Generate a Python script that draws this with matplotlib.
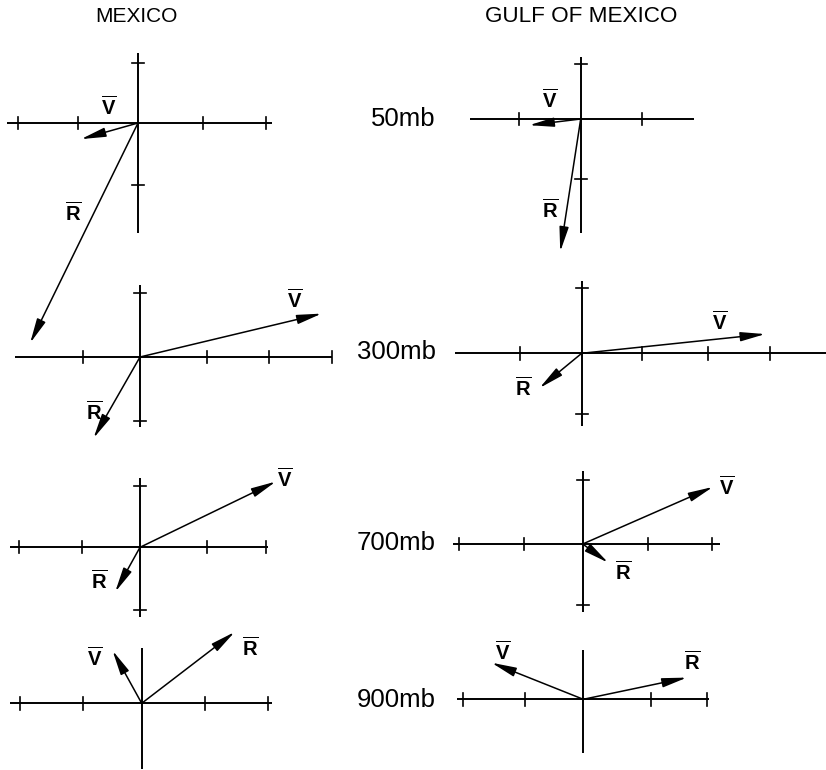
import matplotlib
matplotlib.use("Agg")
import matplotlib.pyplot as plt

plt.rcParams['font.family'] = ['Liberation Sans', 'DejaVu Sans']
plt.rcParams['mathtext.fontset'] = 'custom'
plt.rcParams['mathtext.rm'] = 'Liberation Sans'
plt.rcParams['mathtext.bf'] = 'Liberation Sans:bold'

# ---------------- data (units of the hand-drawn grid) ----------------
columns = ["MEXICO", "GULF OF MEXICO"]
levels = ["50mb", "300mb", "700mb", "900mb"]

# Mean wind vector V (x, y) per level
mex_V = [(-0.92, -0.26), (2.93, 0.70), (2.19, 1.06), (-0.47, 0.85)]
gulf_V = [(-0.83, -0.10), (2.96, 0.31), (2.10, 0.92), (-1.48, 0.59)]
# Vector R (x, y) per level
mex_R = [(-1.74, -3.55), (-0.75, -1.31), (-0.40, -0.72), (1.50, 1.15)]
gulf_R = [(-0.33, -2.14), (-0.68, -0.56), (0.41, -0.30), (1.67, 0.35)]

# tick marks along axes
mex_xticks = [[-1.94, -0.97, 1.05, 2.06], [-0.92, 1.08, 2.08, 3.10],
              [-1.95, -0.94, 1.08, 2.04], [-1.96, -0.94, 1.02, 2.04]]
mex_yticks = [[0.97, -1.0], [1.03, -1.04], [0.99, -1.01], []]
gulf_xticks = [[-1.0, 0.99], [-1.0, 0.98, 2.03, 3.04],
               [-1.99, -0.95, 1.06, 2.08], [-1.94, -0.94, 1.09, 2.0]]
gulf_yticks = [[0.89, -0.97], [1.05, -0.98], [1.03, -0.98], []]

# axis extents (x_min, x_max), (y_max, y_min)
mex_xext = [(-2.11, 2.16), (-2.02, 3.10), (-2.10, 2.07), (-2.12, 2.10)]
mex_yext = [(1.13, -1.77), (1.16, -1.13), (1.12, -1.13), (0.89, -1.06)]
gulf_xext = [(-1.79, 1.82), (-2.04, 4.10), (-2.10, 2.21), (-2.04, 2.02)]
gulf_yext = [(1.00, -1.84), (1.16, -1.18), (1.17, -1.09), (0.80, -0.87)]

# label anchor positions (units)
mex_Vlab = [(-0.48, 0.26), (2.50, 0.92), (2.34, 1.11), (-0.75, 0.73)]
mex_Rlab = [(-1.05, -1.45), (-0.74, -0.88), (-0.65, -0.55), (1.75, 0.90)]
gulf_Vlab = [(-0.50, 0.30), (2.23, 0.50), (2.32, 0.92), (-1.30, 0.77)]
gulf_Rlab = [(-0.49, -1.47), (-0.95, -0.56), (0.65, -0.45), (1.75, 0.61)]

# ---------------- layout ----------------
W, H = 826, 770
U = 62.0  # pixels per unit
mex_origin = [(138, 123), (140, 357), (140, 547.3), (141.7, 703.3)]
gulf_origin = [(580.7, 119), (581.7, 353.3), (582.7, 544), (583.3, 699.3)]

fig = plt.figure(figsize=(W / 100, H / 100), dpi=100)
fig.patch.set_facecolor('white')

XL, XR, YB, YT = -2.6, 4.4, -3.9, 1.5

V_TEX = r'$\overline{\mathbf{V}}$'
R_TEX = r'$\overline{\mathbf{R}}$'


def panel(origin, V, R, xt, yt, xe, ye, vlab, rlab):
    ox, oy = origin
    left = (ox + XL * U) / W
    bottom = 1 - (oy - YB * U) / H
    ax = fig.add_axes([left, bottom, (XR - XL) * U / W, (YT - YB) * U / H])
    ax.set_xlim(XL, XR)
    ax.set_ylim(YB, YT)
    ax.axis('off')
    ax.patch.set_alpha(0)
    lw_ax = 1.4
    ax.plot([xe[0], xe[1]], [0, 0], color='black', lw=lw_ax, clip_on=False,
            solid_capstyle='butt')
    ax.plot([0, 0], [ye[0], ye[1]], color='black', lw=lw_ax, clip_on=False,
            solid_capstyle='butt')
    for t in xt:
        ax.plot([t, t], [-0.1, 0.1], color='black', lw=1.2, clip_on=False)
    for t in yt:
        ax.plot([-0.1, 0.1], [t, t], color='black', lw=1.2, clip_on=False)
    for vec in (V, R):
        ax.annotate('', xy=vec, xytext=(0, 0),
                    arrowprops=dict(arrowstyle='-|>,head_length=1.5,head_width=0.28',
                                    lw=1.1, color='black', shrinkA=0, shrinkB=0,
                                    mutation_scale=10),
                    annotation_clip=False)
    ax.text(vlab[0], vlab[1], V_TEX, fontsize=14.5, ha='center', va='center')
    ax.text(rlab[0], rlab[1], R_TEX, fontsize=14.5, ha='center', va='center')


for i in range(4):
    panel(mex_origin[i], mex_V[i], mex_R[i], mex_xticks[i], mex_yticks[i],
          mex_xext[i], mex_yext[i], mex_Vlab[i], mex_Rlab[i])
    panel(gulf_origin[i], gulf_V[i], gulf_R[i], gulf_xticks[i], gulf_yticks[i],
          gulf_xext[i], gulf_yext[i], gulf_Vlab[i], gulf_Rlab[i])

# column titles
fig.text(136.5 / W, 1 - 16 / H, columns[0], fontsize=15, ha='center', va='center')
fig.text(581 / W, 1 - 16 / H, columns[1], fontsize=16.2, ha='center', va='center')

# level labels
level_y = [119, 352, 543, 700]
for lab, y in zip(levels, level_y):
    fig.text(436 / W, 1 - y / H, lab, fontsize=18.5, ha='right', va='center')

fig.savefig('out.png', dpi=100, facecolor='white')
